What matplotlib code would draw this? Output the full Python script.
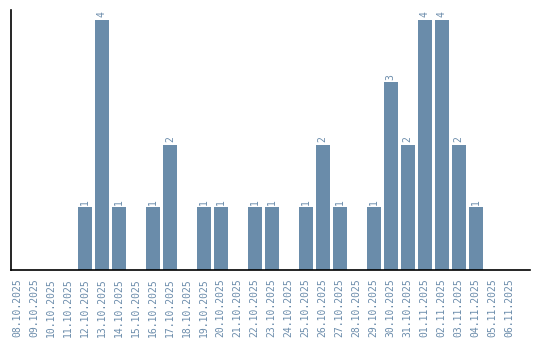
import matplotlib
matplotlib.use("Agg")
import matplotlib.pyplot as plt

dates = [
    "08.10.2025", "09.10.2025", "10.10.2025", "11.10.2025", "12.10.2025",
    "13.10.2025", "14.10.2025", "15.10.2025", "16.10.2025", "17.10.2025",
    "18.10.2025", "19.10.2025", "20.10.2025", "21.10.2025", "22.10.2025",
    "23.10.2025", "24.10.2025", "25.10.2025", "26.10.2025", "27.10.2025",
    "28.10.2025", "29.10.2025", "30.10.2025", "31.10.2025", "01.11.2025",
    "02.11.2025", "03.11.2025", "04.11.2025", "05.11.2025", "06.11.2025",
]
counts = [0, 0, 0, 0, 1, 4, 1, 0, 1, 2, 0, 1, 1, 0, 1, 1, 0, 1, 2, 1,
          0, 1, 3, 2, 4, 4, 2, 1, 0, 0]

BAR = "#6a8caa"
TEXT = "#6b8cab"

plt.rcParams.update({"font.family": "DejaVu Sans Mono", "font.size": 7})

fig = plt.figure(figsize=(5.4, 3.4), dpi=100)
ax = fig.add_axes([0.0204, 0.206, 0.961, 0.765])

x = list(range(len(dates)))
ax.bar(x, counts, width=0.82, color=BAR, edgecolor="none")
for xi, c in zip(x, counts):
    if c > 0:
        ax.text(xi, c + 0.04, str(c), rotation=90, ha="center", va="bottom",
                color=TEXT, fontsize=7)

ax.set_xlim(-0.35, 30.2)
ax.set_ylim(0, 4.16)
ax.set_yticks([])
ax.set_xticks(x)
ax.set_xticklabels(dates, rotation=90, color=TEXT)
ax.tick_params(axis="x", length=0, pad=6)
ax.spines["top"].set_visible(False)
ax.spines["right"].set_visible(False)
ax.spines["left"].set_linewidth(1.2)
ax.spines["bottom"].set_linewidth(1.2)

fig.savefig("out.png", dpi=100)
